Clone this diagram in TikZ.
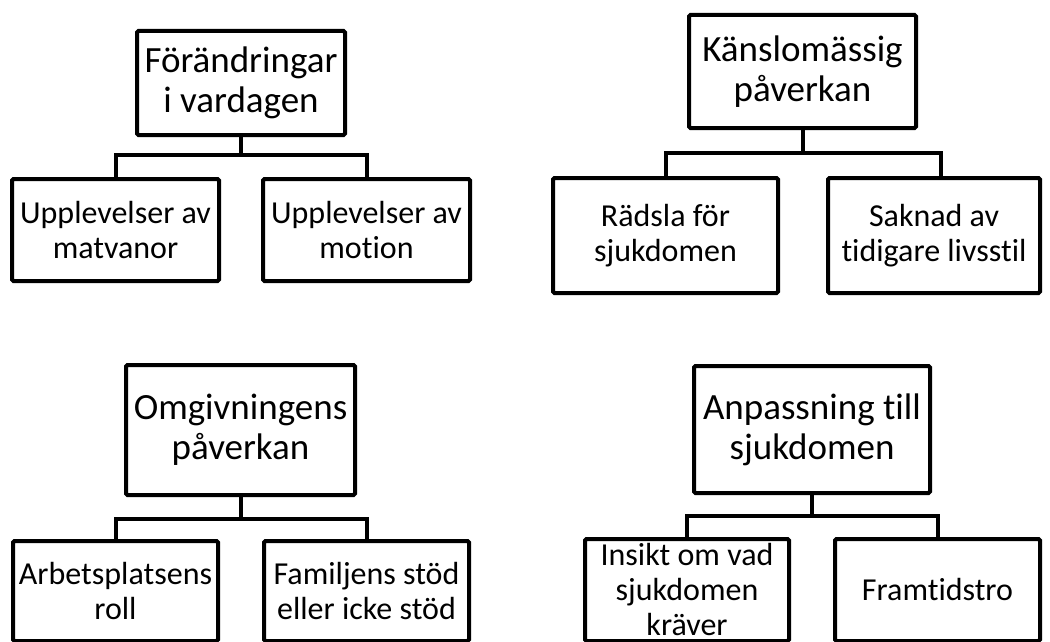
\documentclass[tikz,border=0pt]{standalone}
\usepackage{fontspec}
\setmainfont{Carlito}[Ligatures=NoCommon]
\begin{document}
\begin{tikzpicture}[x=1pt,y=-1pt,
  box/.style={draw=black, line width=4pt, fill=white, rounded corners=1.5pt, align=center, inner sep=0pt, anchor=center},
  parentbox/.style={box, font=\fontsize{37}{40}\selectfont},
  childbox/.style={box, font=\fontsize{32}{35}\selectfont},
  link/.style={draw=black, line width=4pt}]
\useasboundingbox (0,0) rectangle (1050,642);
\begin{scope}
\clip (0,0) rectangle (1050,642);
% Quadrant 1
\node[parentbox, minimum width=208pt, minimum height=104pt] (p1) at (241,83) {Förändringar\\i vardagen};
\node[childbox, minimum width=207pt, minimum height=102pt] (a1) at (115.5,230) {Upplevelser av\\matvanor};
\node[childbox, minimum width=207pt, minimum height=102pt] (b1) at (366.5,230) {Upplevelser av\\motion};
\coordinate (bar1) at (0,155);
\draw[link] (p1.south) -- (p1.south |- bar1);
\draw[link] (a1.north) |- (b1.north |- bar1) -- (b1.north);
% Quadrant 2
\node[parentbox, minimum width=227pt, minimum height=113pt] (p2) at (802.5,71.5) {Känslomässig\\påverkan};
\node[childbox, minimum width=225pt, minimum height=115pt] (a2) at (665.5,235.5) {Rädsla för\\sjukdomen};
\node[childbox, minimum width=212pt, minimum height=115pt] (b2) at (934,235.5) {Saknad av\\tidigare livsstil};
\coordinate (bar2) at (0,153);
\coordinate (bar2e) at (941,153);
\draw[link] (p2.south) -- (p2.south |- bar2);
\draw[link] (a2.north) |- (bar2e) -- (bar2e |- b2.north);
% Quadrant 3
\node[parentbox, minimum width=229pt, minimum height=130pt] (p3) at (240.5,430) {Omgivningens\\påverkan};
\node[childbox, minimum width=205pt, minimum height=100pt] (a3) at (115.5,591) {Arbetsplatsens\\roll};
\node[childbox, minimum width=205pt, minimum height=100pt] (b3) at (366.5,591) {Familjens stöd\\eller icke stöd};
\coordinate (bar3) at (0,519);
\draw[link] (p3.south) -- (p3.south |- bar3);
\draw[link] (a3.north) |- (b3.north |- bar3) -- (b3.north);
% Quadrant 4
\node[parentbox, minimum width=236pt, minimum height=127pt] (p4) at (812,429.5) {Anpassning till\\sjukdomen};
\node[childbox, minimum width=204pt, minimum height=102pt] (a4) at (687,590) {Insikt om vad\\sjukdomen\\kräver};
\node[childbox, minimum width=205pt, minimum height=102pt] (b4) at (937.5,590) {Framtidstro};
\coordinate (bar4) at (0,516);
\draw[link] (p4.south) -- (p4.south |- bar4);
\draw[link] (a4.north) |- (b4.north |- bar4) -- (b4.north);
\end{scope}
\end{tikzpicture}
\end{document}
